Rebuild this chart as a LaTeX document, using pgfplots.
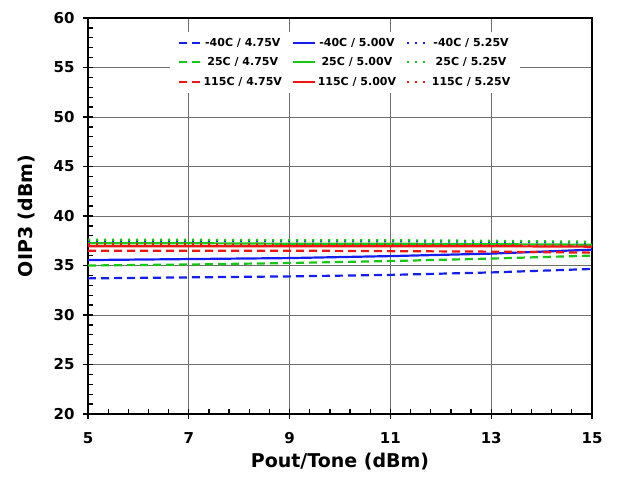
\documentclass[border=0pt]{standalone}
\usepackage{pgfplots}
\pgfplotsset{compat=1.18}
\usepackage{fontspec}
\setmainfont{DejaVu Sans}
\definecolor{cblue}{RGB}{20,30,240}
\definecolor{cgreen}{RGB}{20,200,20}
\definecolor{cred}{RGB}{240,20,20}
\definecolor{gridgray}{RGB}{110,110,110}
\tikzset{
  dashA/.style={dash pattern=on 8pt off 5pt},
  dotA/.style={dash pattern=on 2pt off 6pt},
}
% a legend sample line with its own explicit style
\newcommand{\legline}[1]{%
  \addlegendimage{legend image code/.code={%
    \draw[#1, line width=1.8pt] (0pt,0pt) -- (22pt,0pt);}}}
\begin{document}
\begin{tikzpicture}[x=1pt,y=1pt]
\begin{axis}[
  scale only axis,
  width=504pt, height=396pt,
  xmin=5, xmax=15, ymin=20, ymax=60,
  xtick={5,7,...,15}, ytick={20,25,...,60},
  minor x tick num=4, minor y tick num=4,
  xmajorgrids, ymajorgrids,
  grid style={gridgray, line width=0.9pt},
  axis line style={black, line width=1.6pt},
  tick style={black, line width=1.3pt},
  major tick length=5pt, minor tick length=5pt,
  tick align=inside,
  % outer half of the major ticks, so that they cross the axis line
  extra x ticks={5,7,...,15}, extra y ticks={20,25,...,60},
  extra x tick labels={}, extra y tick labels={},
  extra tick style={tick align=outside, grid=none},
  xtick pos=bottom, ytick pos=left,
  tick label style={font=\bfseries\fontsize{15}{17}\selectfont},
  xticklabel style={yshift=-14pt},
  yticklabel style={xshift=-9pt},
  /pgf/number format/assume math mode=true,
  xlabel={Pout/Tone (dBm)}, ylabel={OIP3 (dBm)},
  label style={font=\bfseries\fontsize{19}{21}\selectfont},
  xlabel style={yshift=3pt},
  ylabel style={yshift=6pt},
  legend columns=3,
  legend cell align=center,
  legend style={draw=none, fill=white, at={(0.51,0.888)}, anchor=center,
    inner xsep=8pt, inner ysep=4pt,
    font=\bfseries\fontsize{11}{13}\selectfont,
    /tikz/every even column/.append style={column sep=8pt},
    row sep=6pt},
  line width=2.2pt,
]
% -40C / 4.75V
\addplot[cblue, dashA, forget plot] coordinates {(5,33.7) (7,33.8) (9,33.9) (11,34.05) (13,34.3) (15,34.65)};
% -40C / 5.00V
\addplot[cblue, forget plot] coordinates {(5,35.55) (7,35.65) (9,35.75) (11,35.95) (13,36.2) (15,36.6)};
% -40C / 5.25V
\addplot[cblue, dotA, forget plot] coordinates {(5,37.5) (7,37.5) (9,37.45) (11,37.45) (13,37.4) (15,37.3)};
% 25C / 4.75V
\addplot[cgreen, dashA, forget plot] coordinates {(5,35.0) (7,35.1) (9,35.25) (11,35.45) (13,35.7) (15,36.0)};
% 25C / 5.00V
\addplot[cgreen, forget plot] coordinates {(5,37.25) (7,37.25) (9,37.2) (11,37.2) (13,37.15) (15,37.1)};
% 25C / 5.25V
\addplot[cgreen, dotA, forget plot] coordinates {(5,37.6) (7,37.6) (9,37.55) (11,37.55) (13,37.5) (15,37.4)};
% 115C / 4.75V
\addplot[cred, dashA, forget plot] coordinates {(5,36.5) (7,36.5) (9,36.5) (11,36.45) (13,36.4) (15,36.3)};
% 115C / 5.00V
\addplot[cred, forget plot] coordinates {(5,36.95) (7,36.95) (9,36.95) (11,36.95) (13,36.95) (15,36.9)};
% 115C / 5.25V
\addplot[cred, dotA, forget plot] coordinates {(5,37.15) (7,37.15) (9,37.1) (11,37.1) (13,37.05) (15,37.0)};

% legend, three columns: one per supply voltage
\legline{cblue, dashA}\addlegendentry{-40C / 4.75V}
\legline{cblue, solid}\addlegendentry{-40C / 5.00V}
\legline{cblue, dotA}\addlegendentry{-40C / 5.25V}
\legline{cgreen, dashA}\addlegendentry{25C / 4.75V}
\legline{cgreen, solid}\addlegendentry{25C / 5.00V}
\legline{cgreen, dotA}\addlegendentry{25C / 5.25V}
\legline{cred, dashA}\addlegendentry{115C / 4.75V}
\legline{cred, solid}\addlegendentry{115C / 5.00V}
\legline{cred, dotA}\addlegendentry{115C / 5.25V}
\end{axis}
\useasboundingbox (-88pt,-62pt) rectangle (529pt,414pt);
\end{tikzpicture}
\end{document}
